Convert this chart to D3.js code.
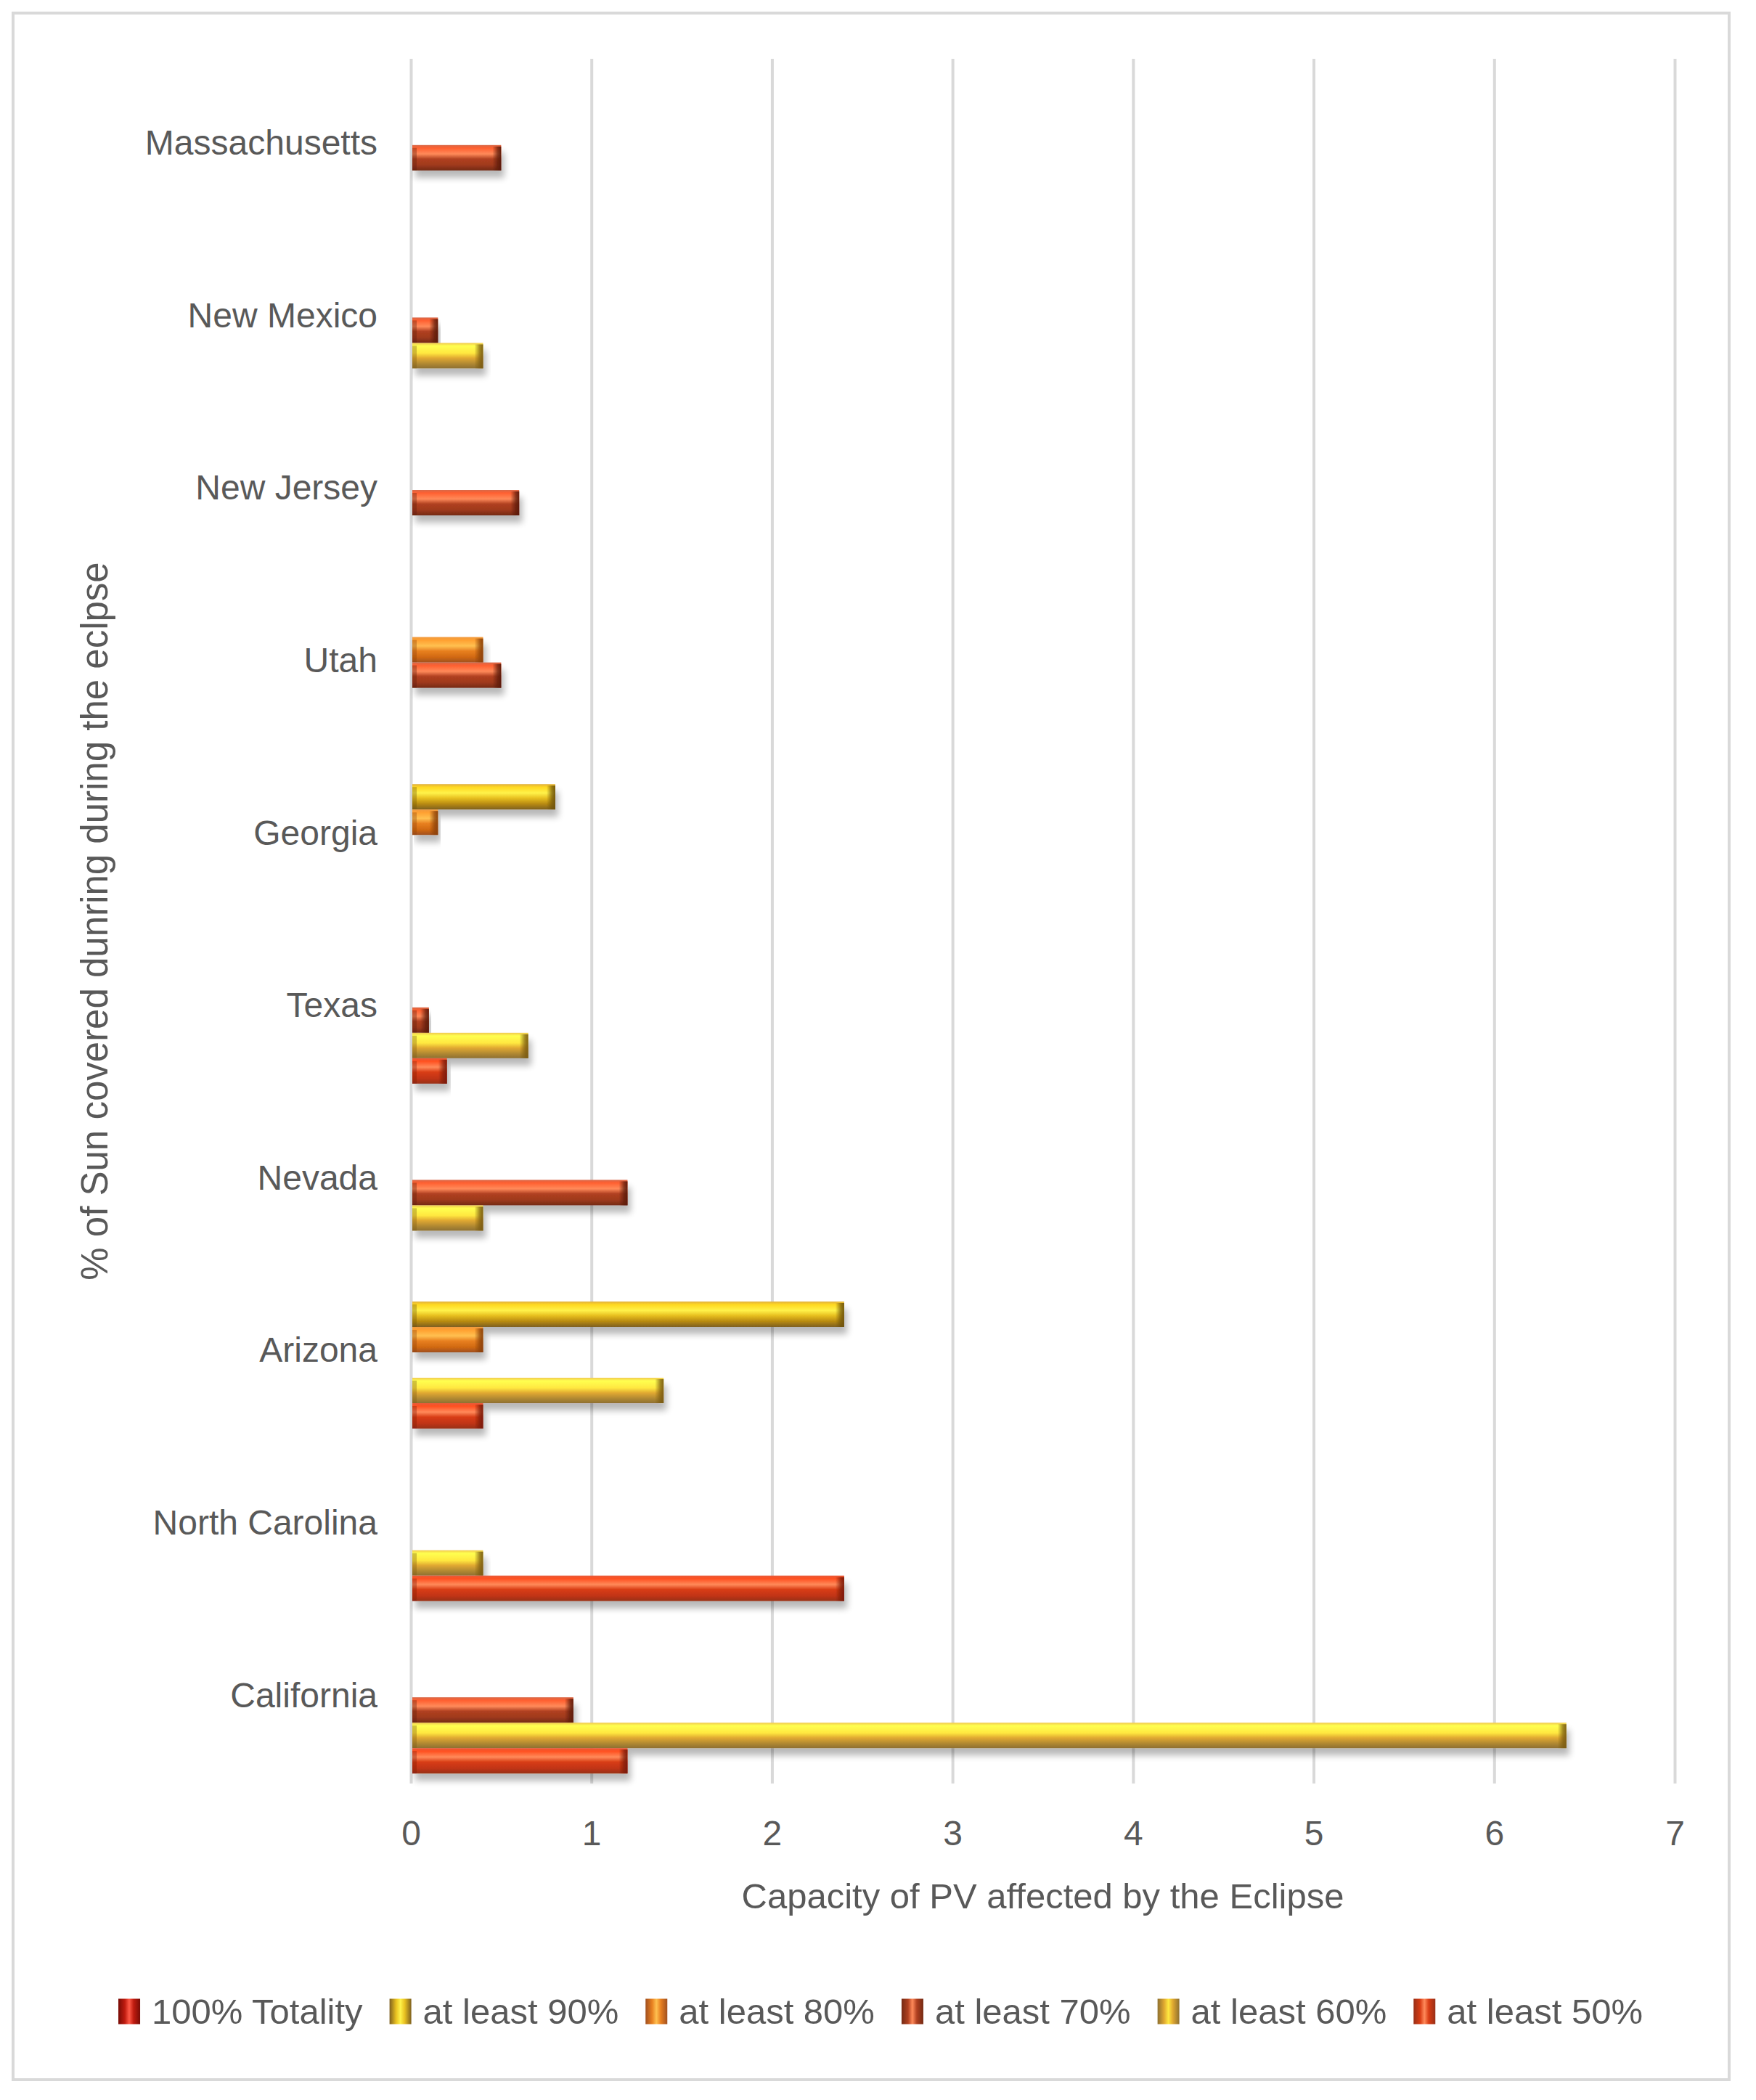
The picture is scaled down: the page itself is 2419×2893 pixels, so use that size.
<!DOCTYPE html>
<html>
<head>
<meta charset="utf-8">
<script src="https://cdn.jsdelivr.net/npm/d3@7/dist/d3.min.js"></script>
<style>
  html, body { margin: 0; padding: 0; background: #ffffff; }
  svg { display: block; }
  text { font-family: "Liberation Sans", Arial, sans-serif; fill: #595959; }
</style>
</head>
<body>
<script>
// ---------------- DATA ----------------
const categories = ["California", "North Carolina", "Arizona", "Nevada", "Texas",
                    "Georgia", "Utah", "New Jersey", "New Mexico", "Massachusetts"];
const seriesNames = ["100% Totality", "at least 90%", "at least 80%",
                     "at least 70%", "at least 60%", "at least 50%"];
const totality  = [null, null, null, null, null, null, null, null, null, null];
const atLeast90 = [null, null, 2.4,  null, null, 0.8,  null, null, null, null];
const atLeast80 = [null, null, 0.4,  null, null, 0.15, 0.4,  null, null, null];
const atLeast70 = [0.9,  null, null, 1.2,  0.1,  null, 0.5,  0.6,  0.15, 0.5];
const atLeast60 = [6.4,  0.4,  1.4,  0.4,  0.65, null, null, null, 0.4,  null];
const atLeast50 = [1.2,  2.4,  0.4,  null, 0.2,  null, null, null, null, null];
const xTickValues = [0, 1, 2, 3, 4, 5, 6, 7];
const xTitle = "Capacity of PV affected by the Eclipse";
const yTitle = "% of Sun covered dunring during the eclpse";

const seriesValues = [totality, atLeast90, atLeast80, atLeast70, atLeast60, atLeast50];

// ---------------- STYLE ----------------
const seriesStops = [
  [["0", "#d04030"], ["0.1", "#ff3a28"], ["0.35", "#ff5a48"], ["0.55", "#c01c10"], ["0.8", "#a01408"], ["1", "#780c06"]],
  [["0", "#e0b040"], ["0.12", "#ffd820"], ["0.35", "#fff24a"], ["0.55", "#e8c020"], ["0.78", "#b88a10"], ["1", "#7e6020"]],
  [["0", "#f09a40"], ["0.12", "#ffa030"], ["0.35", "#ffc050"], ["0.55", "#e88020"], ["0.8", "#d06810"], ["1", "#a05020"]],
  [["0", "#d86848"], ["0.12", "#ff6030"], ["0.35", "#ff8a5a"], ["0.55", "#b04020"], ["0.78", "#a03a1e"], ["1", "#742a14"]],
  [["0", "#f0c850"], ["0.12", "#ffff50"], ["0.4", "#ffe840"], ["0.6", "#e0a830"], ["0.82", "#b08830"], ["1", "#8e7030"]],
  [["0", "#e85a38"], ["0.12", "#ff5020"], ["0.35", "#ff8a5a"], ["0.55", "#d83c14"], ["0.8", "#c03414"], ["1", "#983018"]]
];
const capColors = ["#600808", "#6e5208", "#8a4008", "#5a1a0a", "#7a5a10", "#7a1a08"];

const W = 2419, H = 2893;
const plot = { left: 566, right: 2307, top: 81, bottom: 2457 };

const svg = d3.select("body").append("svg")
  .attr("width", W).attr("height", H).attr("viewBox", `0 0 ${W} ${H}`);

const defs = svg.append("defs");
seriesStops.forEach((stops, i) => {
  const g = defs.append("linearGradient").attr("id", "bar" + i)
    .attr("x1", 0).attr("y1", 0).attr("x2", 0).attr("y2", 1);
  stops.forEach(s => g.append("stop").attr("offset", s[0]).attr("stop-color", s[1]));
  const gi = defs.append("linearGradient").attr("id", "icon" + i)
    .attr("x1", 0).attr("y1", 0).attr("x2", 1).attr("y2", 0);
  gi.append("stop").attr("offset", "0").attr("stop-color", stops[5][1]);
  gi.append("stop").attr("offset", "0.3").attr("stop-color", stops[3][1]);
  gi.append("stop").attr("offset", "0.5").attr("stop-color", stops[2][1]);
  gi.append("stop").attr("offset", "0.7").attr("stop-color", stops[3][1]);
  gi.append("stop").attr("offset", "1").attr("stop-color", stops[5][1]);
  const gc = defs.append("linearGradient").attr("id", "cap" + i)
    .attr("x1", 0).attr("y1", 0).attr("x2", 1).attr("y2", 0);
  gc.append("stop").attr("offset", "0").attr("stop-color", capColors[i]).attr("stop-opacity", 0);
  gc.append("stop").attr("offset", "0.6").attr("stop-color", capColors[i]).attr("stop-opacity", 0.7);
  gc.append("stop").attr("offset", "1").attr("stop-color", capColors[i]).attr("stop-opacity", 0.95);
});
const f = defs.append("filter").attr("id", "shadow")
  .attr("x", "-5%").attr("y", "-40%").attr("width", "115%").attr("height", "220%");
f.append("feGaussianBlur").attr("in", "SourceAlpha").attr("stdDeviation", 5).attr("result", "blur");
f.append("feOffset").attr("in", "blur").attr("dx", 4).attr("dy", 10).attr("result", "off");
f.append("feComponentTransfer").attr("in", "off").attr("result", "sh")
  .append("feFuncA").attr("type", "linear").attr("slope", 0.28);
const fm = f.append("feMerge");
fm.append("feMergeNode").attr("in", "sh");
fm.append("feMergeNode").attr("in", "SourceGraphic");

// chart frame
svg.append("rect").attr("x", 18).attr("y", 18).attr("width", 2364).attr("height", 2847)
  .attr("fill", "#ffffff").attr("stroke", "#d9d9d9").attr("stroke-width", 4);

// ---------------- SCALES ----------------
const x = d3.scaleLinear().domain([0, 7]).range([plot.left, plot.right]);
const y = d3.scaleBand().domain(categories.slice().reverse())
  .range([plot.top, plot.bottom]).paddingInner(0.116).paddingOuter(0.058);
const ys = d3.scaleBand().domain(seriesNames).range([0, y.bandwidth()]).padding(0);

// gridlines
const grid = svg.append("g").attr("transform", `translate(0,${plot.bottom})`)
  .call(d3.axisBottom(x).tickValues(xTickValues).tickSize(-(plot.bottom - plot.top)).tickFormat(""));
grid.select(".domain").remove();
grid.selectAll(".tick line").attr("stroke", "#d9d9d9").attr("stroke-width", 4);

// tick labels
const xa = svg.append("g").attr("transform", `translate(0,${plot.bottom})`)
  .call(d3.axisBottom(x).tickValues(xTickValues).tickSize(0).tickPadding(0).tickFormat(d3.format("d")));
xa.select(".domain").remove();
xa.selectAll(".tick text").attr("y", 68).attr("dy", "0.35em")
  .style("font-size", "48px").style("font-family", "'Liberation Sans', Arial, sans-serif").attr("fill", "#595959");

// category labels
const ya = svg.append("g").attr("transform", `translate(${plot.left},0)`)
  .call(d3.axisLeft(y).tickSize(0).tickPadding(46));
ya.select(".domain").remove();
ya.selectAll(".tick text").attr("dy", "0.28em")
  .style("font-size", "48px").style("font-family", "'Liberation Sans', Arial, sans-serif").attr("fill", "#595959");

// bars
const bars = [];
seriesValues.forEach((vals, si) => {
  vals.forEach((v, ci) => {
    if (v !== null && v > 0) bars.push({ s: si, c: categories[ci], v: v });
  });
});
const barG = svg.append("g");
const bg = barG.selectAll("g.bar").data(bars).join("g").attr("class", "bar")
  .attr("filter", "url(#shadow)");
bg.append("rect")
  .attr("x", x(0) + 2)
  .attr("y", d => y(d.c) + ys(seriesNames[d.s]))
  .attr("width", d => x(d.v) - x(0) - 2)
  .attr("height", ys.bandwidth())
  .attr("fill", d => `url(#bar${d.s})`);
bg.append("rect")
  .attr("x", d => x(d.v) - Math.min(12, (x(d.v) - x(0)) / 2))
  .attr("y", d => y(d.c) + ys(seriesNames[d.s]) + 2)
  .attr("width", d => Math.min(12, (x(d.v) - x(0)) / 2))
  .attr("height", ys.bandwidth() - 2)
  .attr("fill", d => `url(#cap${d.s})`);
bg.append("rect")
  .attr("x", x(0) + 2)
  .attr("y", d => y(d.c) + ys(seriesNames[d.s]) + 4)
  .attr("width", 6)
  .attr("height", ys.bandwidth() - 4)
  .attr("fill", d => capColors[d.s]).attr("opacity", 0.35);

// axis titles
svg.append("text").attr("x", (plot.left + plot.right) / 2).attr("y", 2612).attr("dy", "0.35em")
  .attr("text-anchor", "middle").style("font-size", "49px").text(xTitle);
svg.append("text").attr("transform", `translate(130,${(plot.top + plot.bottom) / 2}) rotate(-90)`)
  .attr("dy", "0.35em").attr("text-anchor", "middle").style("font-size", "51px").text(yTitle);

// legend
const leg = svg.append("g");
const items = leg.selectAll("g").data(seriesNames).join("g");
items.append("rect").attr("width", 30).attr("height", 35).attr("y", -17.5)
  .attr("fill", (d, i) => `url(#icon${i})`);
items.append("text").attr("x", 46).attr("dy", "0.35em").style("font-size", "49px").text(d => d);
let cursor = 0;
items.each(function () {
  const w = d3.select(this).select("text").node().getComputedTextLength();
  d3.select(this).attr("transform", `translate(${cursor},0)`);
  cursor += 46 + w + 37;
});
const total = cursor - 37;
leg.attr("transform", `translate(${1213 - total / 2},2771)`);
</script>
</body>
</html>
